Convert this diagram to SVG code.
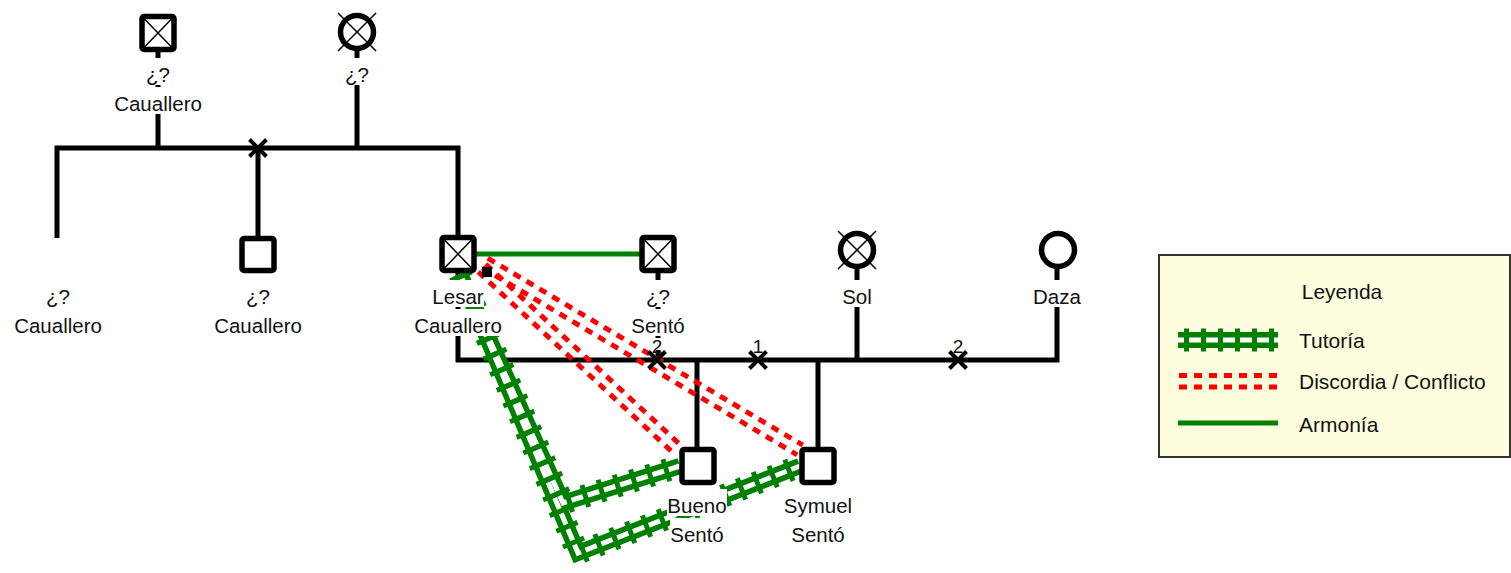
<svg xmlns="http://www.w3.org/2000/svg" width="1511" height="573" viewBox="0 0 1511 573">
  <style>
    .fam { fill: none; stroke: #000; stroke-width: 5; stroke-linejoin: miter; stroke-linecap: butt; }
    .div { fill: none; stroke: #000; stroke-width: 4; }
    .sym { fill: #fff; stroke: #000; stroke-width: 5.5; }
    .dx { fill: none; stroke: #000; stroke-width: 1.5; }
    .bg { fill: #fff; }
    .lbl { font-family: "Liberation Sans", Arial, sans-serif; font-size: 20.5px; fill: #111; text-anchor: middle; }
    .num { font-family: "Liberation Sans", Arial, sans-serif; font-size: 19px; fill: #111; text-anchor: middle; }
    .leg { font-family: "Liberation Sans", Arial, sans-serif; font-size: 21px; fill: #111; }
    .harm { fill: none; stroke: #008000; stroke-width: 5; }
    .conf { fill: none; stroke: #ff0000; stroke-width: 5; stroke-dasharray: 8 7; }
    .tut-rail { fill: none; stroke: #008000; stroke-width: 16; stroke-linejoin: miter; }
    .tut-gap { fill: none; stroke: #fff; stroke-width: 5; stroke-linejoin: miter; }
    .tut-tie { fill: none; stroke: #008000; stroke-width: 23; stroke-dasharray: 5 12; }
  </style>
  <defs>
    <path id="tutA" d="M460 274 L563 503 L680 466"/>
    <path id="tutB" d="M460 274 L578 553 L800 466"/>
  </defs>

  <g id="connectors">
    <!-- family lines -->
    <path class="fam" d="M57 238 V148 H458 V236"/>
    <path class="fam" d="M158 52 V148"/>
    <path class="fam" d="M357 50 V148"/>
    <path class="fam" d="M258 148 V237"/>
    <path class="fam" d="M458 272 V360 H1057 V268"/>
    <path class="fam" d="M857 268 V360"/>
    <path class="fam" d="M658 272 V360"/>
    <path class="fam" d="M697 360 V449"/>
    <path class="fam" d="M818 360 V449"/>

    <!-- harmony -->
    <path class="harm" d="M476 254 H641"/>

    <!-- mentoring (double rail with ties) -->
    <use href="#tutA" class="tut-rail"/>
    <use href="#tutB" class="tut-rail"/>
    <use href="#tutA" class="tut-gap"/>
    <use href="#tutB" class="tut-gap"/>
    <use href="#tutA" class="tut-tie"/>
    <use href="#tutB" class="tut-tie"/>

    <!-- conflict (double dotted) -->
    <path class="conf" d="M478.3 271.9 L674.3 453.9"/>
    <path class="conf" d="M485.7 264.1 L681.7 446.1"/>
    <path class="conf" d="M482.2 267.8 L797.2 454.8"/>
    <path class="conf" d="M487.8 258.2 L802.8 445.2"/>

    <!-- separation marks -->
    <rect class="bg" x="650.5" y="338" width="13" height="12"/>
    <rect class="bg" x="751.5" y="338" width="13" height="12"/>
    <rect class="bg" x="951.5" y="338" width="13" height="12"/>
    <text class="num" x="657" y="353">2</text>
    <text class="num" x="758" y="353">1</text>
    <text class="num" x="958" y="353">2</text>
    <path class="div" d="M249.5 139.5 L266.5 156.5 M266.5 139.5 L249.5 156.5"/>
    <path class="div" d="M648.5 351.5 L665.5 368.5 M665.5 351.5 L648.5 368.5"/>
    <path class="div" d="M749.5 351.5 L766.5 368.5 M766.5 351.5 L749.5 368.5"/>
    <path class="div" d="M949.5 351.5 L966.5 368.5 M966.5 351.5 L949.5 368.5"/>
  </g>

  <!-- top generation -->
  <g id="grandfather">
    <rect class="sym" x="142" y="16.5" width="32" height="33" rx="2"/>
    <path class="dx" d="M144.5 19 L171.5 47 M171.5 19 L144.5 47"/>
    <rect class="bg" x="145" y="58" width="26" height="27"/>
    <rect class="bg" x="114" y="87" width="88" height="27"/>
    <text class="lbl" x="158" y="82">¿?</text>
    <text class="lbl" x="158" y="111">Cauallero</text>
  </g>
  <g id="grandmother">
    <circle class="sym" cx="357" cy="32" r="16.5"/>
    <path class="dx" d="M338 13 L376 51 M376 13 L338 51"/>
    <rect class="bg" x="344" y="58" width="26" height="27"/>
    <text class="lbl" x="357" y="82">¿?</text>
  </g>

  <!-- second generation -->
  <g id="child-left">
    <rect class="bg" x="45" y="280" width="26" height="27"/>
    <rect class="bg" x="14" y="309" width="88" height="27"/>
    <text class="lbl" x="58" y="304">¿?</text>
    <text class="lbl" x="58" y="333">Cauallero</text>
  </g>
  <g id="child-middle">
    <rect class="sym" x="242" y="238.5" width="32" height="32" rx="2"/>
    <rect class="bg" x="245" y="280" width="26" height="27"/>
    <rect class="bg" x="214" y="309" width="88" height="27"/>
    <text class="lbl" x="258" y="304">¿?</text>
    <text class="lbl" x="258" y="333">Cauallero</text>
  </g>
  <g id="lesar">
    <rect class="sym" x="442" y="237.5" width="32" height="33" rx="2"/>
    <path class="dx" d="M444.5 240 L471.5 268 M471.5 240 L444.5 268"/>
    <rect x="482" y="267" width="10" height="10" fill="#000"/>
    <rect class="bg" x="432" y="280" width="52" height="27"/>
    <rect class="bg" x="414" y="309" width="88" height="27"/>
    <text class="lbl" x="458" y="304">Lesar</text>
    <text class="lbl" x="458" y="333">Cauallero</text>
  </g>
  <g id="sento">
    <rect class="sym" x="642" y="237.5" width="32" height="33" rx="2"/>
    <path class="dx" d="M644.5 240 L671.5 268 M671.5 240 L644.5 268"/>
    <rect class="bg" x="645" y="280" width="26" height="27"/>
    <rect class="bg" x="631" y="309" width="54" height="27"/>
    <text class="lbl" x="658" y="304">¿?</text>
    <text class="lbl" x="658" y="333">Sentó</text>
  </g>
  <g id="sol">
    <circle class="sym" cx="857" cy="250" r="16.5"/>
    <path class="dx" d="M838 231 L876 269 M876 231 L838 269"/>
    <rect class="bg" x="841.5" y="280" width="31" height="27"/>
    <text class="lbl" x="857" y="304">Sol</text>
  </g>
  <g id="daza">
    <circle class="sym" cx="1058" cy="250" r="16.5"/>
    <rect class="bg" x="1033" y="280" width="49" height="27"/>
    <text class="lbl" x="1057" y="304">Daza</text>
  </g>

  <!-- third generation -->
  <g id="bueno">
    <rect class="sym" x="682" y="449.5" width="32" height="33" rx="2"/>
    <rect class="bg" x="667" y="489" width="60" height="27"/>
    <rect class="bg" x="670" y="518" width="54" height="27"/>
    <text class="lbl" x="697" y="513">Bueno</text>
    <text class="lbl" x="697" y="542">Sentó</text>
  </g>
  <g id="symuel">
    <rect class="sym" x="802" y="449.5" width="32" height="33" rx="2"/>
    <rect class="bg" x="783.5" y="489" width="69" height="27"/>
    <rect class="bg" x="791" y="518" width="54" height="27"/>
    <text class="lbl" x="818" y="513">Symuel</text>
    <text class="lbl" x="818" y="542">Sentó</text>
  </g>

  <!-- legend -->
  <g id="legend">
    <rect x="1159" y="255" width="351" height="202" fill="#ffffe0" stroke="#333" stroke-width="2"/>
    <text class="leg" x="1342" y="299" text-anchor="middle">Leyenda</text>
    <path class="tut-rail" d="M1178 340 H1278"/>
    <path class="tut-gap" d="M1178 340 H1278"/>
    <path class="tut-tie" d="M1178 340 H1278" stroke-dasharray="5 14.5" stroke-dashoffset="-6" stroke-width="25"/>
    <text class="leg" x="1299" y="348">Tutoría</text>
    <path class="conf" d="M1179 375.5 H1278" stroke-dasharray="7 9"/>
    <path class="conf" d="M1179 387 H1278" stroke-dasharray="7 9"/>
    <text class="leg" x="1299" y="389">Discordia / Conflicto</text>
    <path class="harm" d="M1178 423 H1278"/>
    <text class="leg" x="1299" y="432">Armonía</text>
  </g>
</svg>
